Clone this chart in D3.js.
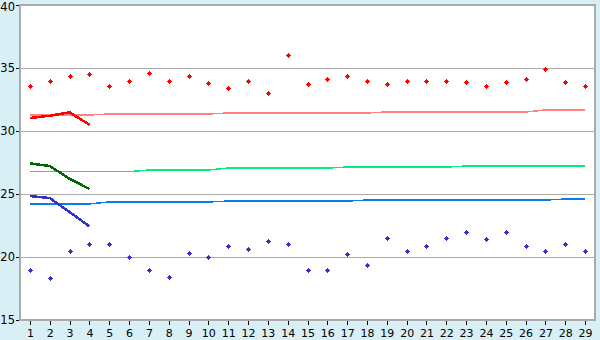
<!DOCTYPE html>
<html>
<head>
<meta charset="utf-8">
<style>
  body { margin: 0; background: #d9eff6; }
  svg { display: block; }
  text { font-family: "DejaVu Sans", Verdana, sans-serif; fill: #000; }
</style>
</head>
<body>
<script src="https://cdn.jsdelivr.net/npm/d3@7"></script>
<script>
var days = [1,2,3,4,5,6,7,8,9,10,11,12,13,14,15,16,17,18,19,20,21,22,23,24,25,26,27,28,29];
var yTicks = [15, 20, 25, 30, 35, 40];

// scatter points
var redPoints  = [33.6,34.0,34.4,34.5,33.6,34.0,34.6,34.0,34.4,33.8,33.4,34.0,33.0,36.0,33.7,34.1,34.4,34.0,33.7,34.0,33.95,34.0,33.9,33.6,33.9,34.1,34.9,33.9,33.6];
var bluePoints = [19.0,18.3,20.5,21.0,21.0,20.0,19.0,18.4,20.3,20.0,20.9,20.6,21.3,21.0,19.0,19.0,20.2,19.4,21.5,20.5,20.9,21.5,22.0,21.4,22.0,20.9,20.5,21.0,20.5];

// thin lines (whole month)
var redAvg   = [31.27,31.27,31.27,31.27,31.35,31.35,31.35,31.35,31.35,31.35,31.43,31.43,31.43,31.43,31.43,31.43,31.43,31.43,31.51,31.51,31.51,31.51,31.51,31.51,31.51,31.51,31.67,31.67,31.67];
var greenAvg = [26.77,26.77,26.77,26.77,26.77,26.77,26.9,26.9,26.9,26.9,27.06,27.06,27.06,27.06,27.06,27.06,27.14,27.14,27.14,27.14,27.14,27.14,27.22,27.22,27.22,27.22,27.22,27.22,27.22];
var blueAvg  = [24.21,24.21,24.21,24.21,24.37,24.37,24.37,24.37,24.37,24.37,24.44,24.44,24.44,24.44,24.44,24.44,24.44,24.52,24.52,24.52,24.52,24.52,24.52,24.52,24.52,24.52,24.52,24.6,24.6];

// thick lines (first days only)
var redShort   = [31.03, 31.21, 31.48, 30.5];
var greenShort = [27.43, 27.22, 26.21, 25.4];
var blueShort  = [24.84, 24.68, 23.57, 22.43];

var width = 600, height = 340;
var pLeft = 20, pRight = 595, pTop = 5, pBottom = 320;

var svg = d3.select("body").append("svg")
    .attr("width", width)
    .attr("height", height);

svg.append("rect")
    .attr("width", width).attr("height", height)
    .attr("fill", "#d9eff6");

var x = d3.scaleLinear().domain([0.5, 29.5]).range([pLeft, pRight]);
var y = d3.scaleLinear().domain([15, 40]).range([pBottom, pTop]);

// plot background
svg.append("rect")
    .attr("x", pLeft).attr("y", pTop)
    .attr("width", pRight - pLeft).attr("height", pBottom - pTop)
    .attr("fill", "#fff");

// horizontal grid lines
svg.append("g").selectAll("line")
    .data(yTicks)
    .join("line")
    .attr("x1", pLeft).attr("x2", pRight)
    .attr("y1", d => Math.round(y(d)) + 0.5)
    .attr("y2", d => Math.round(y(d)) + 0.5)
    .attr("stroke", "#aaaaaa")
    .attr("stroke-width", 1.5)
    .attr("shape-rendering", "crispEdges");

// axes
var yAxis = svg.append("g")
    .attr("transform", "translate(" + pLeft + ",0)")
    .call(d3.axisLeft(y).tickValues(yTicks).tickSize(4).tickPadding(1));
yAxis.select(".domain").remove();
yAxis.selectAll("line").attr("stroke", "#000").attr("shape-rendering", "crispEdges");
yAxis.selectAll("text").style("font-size", "11.5px").attr("font-family", "DejaVu Sans");
// top label sits right at the edge, nudge it down a little
yAxis.selectAll(".tick").filter(d => d === 40).select("text").attr("dy", "0.45em");

var xAxis = svg.append("g")
    .attr("transform", "translate(0," + pBottom + ")")
    .call(d3.axisBottom(x).tickValues(days).tickFormat(d3.format("d")).tickSize(5).tickPadding(4));
xAxis.select(".domain").remove();
xAxis.selectAll("line").attr("stroke", "#000").attr("shape-rendering", "crispEdges");
xAxis.selectAll("text").style("font-size", "11px").attr("font-family", "DejaVu Sans");

// plot frame
svg.append("rect")
    .attr("x", pLeft).attr("y", pTop)
    .attr("width", pRight - pLeft).attr("height", pBottom - pTop)
    .attr("fill", "none")
    .attr("stroke", "#aaaaaa")
    .attr("stroke-width", 2)
    .attr("shape-rendering", "crispEdges");

var line = d3.line()
    .x((d, i) => x(days[i]))
    .y(d => y(d));

var thin = [[redAvg, "#ff8080"], [greenAvg, "#00f080"], [blueAvg, "#0a7cf0"]];
thin.forEach(function(s) {
    svg.append("path")
        .attr("d", line(s[0]))
        .attr("fill", "none")
        .attr("stroke", s[1])
        .attr("stroke-width", 1.5)
        .attr("shape-rendering", "crispEdges");
});

var thick = [[redShort, "#ff0000"], [greenShort, "#006600"], [blueShort, "#3333cc"]];
thick.forEach(function(s) {
    svg.append("path")
        .attr("d", line(s[0]))
        .attr("fill", "none")
        .attr("stroke", s[1])
        .attr("stroke-width", 2.5)
        .attr("shape-rendering", "crispEdges");
});

// small diamond-like plus markers, aligned on pixel centres
var marker = "M-0.5,-2.5h1v1h1v1h1v1h-1v1h-1v1h-1v-1h-1v-1h-1v-1h1v-1h1z";
function drawPoints(vals, color) {
    svg.append("g").selectAll("path")
        .data(vals)
        .join("path")
        .attr("d", marker)
        .attr("transform", (d, i) => "translate(" + (Math.round(x(days[i])) + 0.5) + "," + (Math.round(y(d)) + 0.5) + ")")
        .attr("fill", color)
        .attr("shape-rendering", "crispEdges");
}
drawPoints(redPoints, "#ff0000");
drawPoints(bluePoints, "#3333cc");
</script>
</body>
</html>
